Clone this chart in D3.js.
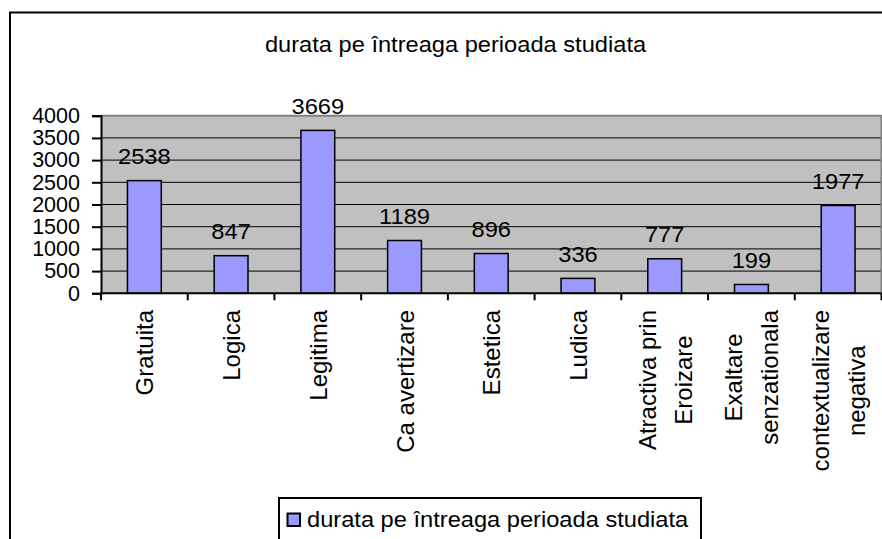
<!DOCTYPE html>
<html>
<head>
<meta charset="utf-8">
<script src="https://cdn.jsdelivr.net/npm/d3@7"></script>
<style>
  body { margin: 0; background: #fff; }
  svg { display: block; font-family: Arial, "Liberation Sans", sans-serif; }
</style>
</head>
<body>
<script>
const title = "durata pe întreaga perioada studiata";
const categories = ["Gratuita", "Logica", "Legitima", "Ca avertizare", "Estetica", "Ludica", "Atractiva prin Eroizare", "Exaltare senzationala", "contextualizare negativa"];
const categoryLines = [["Gratuita"], ["Logica"], ["Legitima"], ["Ca avertizare"], ["Estetica"], ["Ludica"], ["Atractiva prin", "Eroizare"], ["Exaltare", "senzationala"], ["contextualizare", "negativa"]];
const values = [2538, 847, 3669, 1189, 896, 336, 777, 199, 1977];
const yTicks = [0, 500, 1000, 1500, 2000, 2500, 3000, 3500, 4000];

const width = 882;
const height = 539;
const plot = { left: 101, right: 881.5, top: 115.7, bottom: 293.3 };
const stretch = "scale(1.1,1)";

const svg = d3.select("body").append("svg")
  .attr("width", width)
  .attr("height", height);

// outer chart border (runs past the right and bottom edges)
svg.append("rect")
  .attr("x", 10).attr("y", 12.5)
  .attr("width", 940).attr("height", 620)
  .attr("fill", "#fff")
  .attr("stroke", "#000")
  .attr("stroke-width", 2);

svg.append("text")
  .attr("transform", `translate(455.5,52) ${stretch}`)
  .attr("text-anchor", "middle")
  .attr("font-size", 21.5)
  .text(title);

const x = d3.scaleBand()
  .domain(categories)
  .range([plot.left, plot.right])
  .paddingInner(0.61)
  .paddingOuter(0.305);
const step = x.step();

const y = d3.scaleLinear().domain([0, 4000]).range([plot.bottom, plot.top]);

svg.append("rect")
  .attr("x", plot.left).attr("y", plot.top)
  .attr("width", plot.right - plot.left).attr("height", plot.bottom - plot.top)
  .attr("fill", "#c0c0c0");

svg.append("g")
  .selectAll("line")
  .data(yTicks.filter((t) => t > 0 && t < 4000))
  .join("line")
  .attr("x1", plot.left).attr("x2", plot.right)
  .attr("y1", (d) => y(d)).attr("y2", (d) => y(d))
  .attr("stroke", "#000")
  .attr("stroke-width", 1);

// gray frame on top and right
svg.append("path")
  .attr("d", `M${plot.left},${plot.top}H${plot.right}V${plot.bottom}`)
  .attr("fill", "none")
  .attr("stroke", "#808080")
  .attr("stroke-width", 2);

svg.append("g")
  .selectAll("rect")
  .data(values)
  .join("rect")
  .attr("x", (d, i) => x(categories[i]))
  .attr("y", (d) => y(d))
  .attr("width", x.bandwidth())
  .attr("height", (d) => y(0) - y(d))
  .attr("fill", "#9999ff")
  .attr("stroke", "#000")
  .attr("stroke-width", 1.5);

svg.append("g")
  .selectAll("text")
  .data(values)
  .join("text")
  .attr("transform", (d, i) => `translate(${x(categories[i]) + x.bandwidth() / 2},${y(d) - 16.5}) ${stretch}`)
  .attr("text-anchor", "middle")
  .attr("font-size", 21.5)
  .text((d) => d);

// y axis
const yAxis = svg.append("g")
  .attr("transform", `translate(${plot.left},0)`)
  .call(d3.axisLeft(y).tickValues(yTicks).tickSize(9).tickPadding(12).tickFormat(d3.format("d")));
yAxis.select(".domain").attr("stroke", "#000").attr("stroke-width", 2);
yAxis.selectAll(".tick line").attr("stroke", "#000").attr("stroke-width", 2);
yAxis.selectAll(".tick text")
  .attr("font-size", 21.5)
  .attr("font-family", "Arial, 'Liberation Sans', sans-serif")
  .attr("fill", "#000");

// x axis: line plus ticks on category boundaries
svg.append("line")
  .attr("x1", plot.left - 1).attr("x2", plot.right)
  .attr("y1", plot.bottom).attr("y2", plot.bottom)
  .attr("stroke", "#000").attr("stroke-width", 2);
svg.append("g")
  .selectAll("line")
  .data(d3.range(categories.length + 1))
  .join("line")
  .attr("x1", (i) => plot.left + i * step).attr("x2", (i) => plot.left + i * step)
  .attr("y1", plot.bottom).attr("y2", plot.bottom + 7)
  .attr("stroke", "#000").attr("stroke-width", 2);

// rotated category labels
const labelTop = 310;
const lineGap = 36;
categoryLines.forEach((lines, i) => {
  const cx = x(categories[i]) + x.bandwidth() / 2;
  const g = svg.append("g");
  const texts = lines.map((line) => g.append("text")
    .attr("font-size", 24)
    .attr("text-anchor", "middle")
    .text(line));
  const maxLen = d3.max(texts, (t) => t.node().getComputedTextLength());
  texts.forEach((t, j) => {
    const off = 9 + (j - (lines.length - 1) / 2) * lineGap;
    t.attr("transform", `translate(${cx + off},${labelTop + maxLen / 2}) rotate(-90)`);
  });
});

// legend
svg.append("rect")
  .attr("x", 279).attr("y", 498)
  .attr("width", 422).attr("height", 60)
  .attr("fill", "#fff")
  .attr("stroke", "#000")
  .attr("stroke-width", 2);
svg.append("rect")
  .attr("x", 287.5).attr("y", 513.5)
  .attr("width", 12.5).attr("height", 12.5)
  .attr("fill", "#9999ff")
  .attr("stroke", "#000")
  .attr("stroke-width", 2);
svg.append("text")
  .attr("transform", `translate(307,527) ${stretch}`)
  .attr("font-size", 21.5)
  .text(title);
</script>
</body>
</html>
